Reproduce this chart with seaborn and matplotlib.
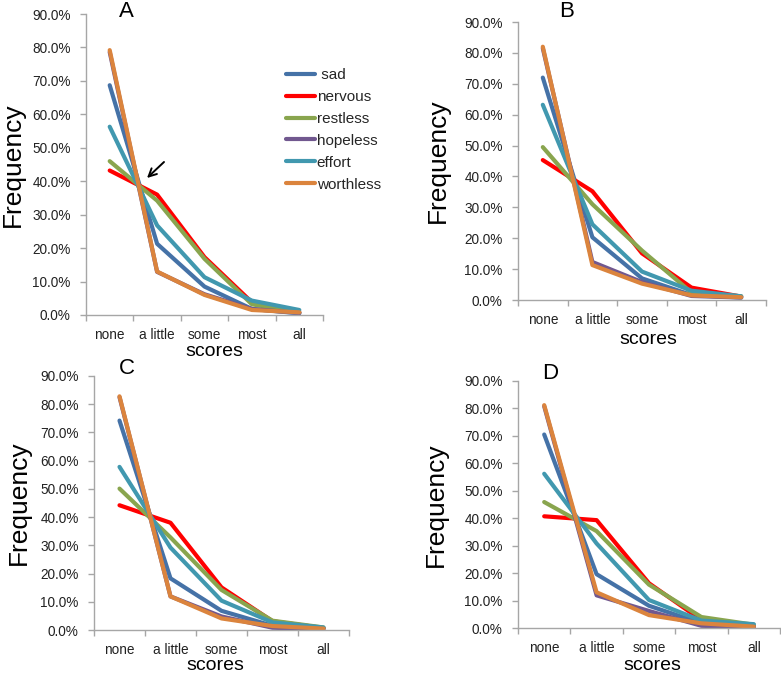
import numpy as np
import pandas as pd
import matplotlib
matplotlib.use("Agg")
import matplotlib.pyplot as plt
from matplotlib.ticker import PercentFormatter, FixedLocator, NullFormatter
import seaborn as sns

# ---------------- data (percent) ----------------
scores = ["none", "a little", "some", "most", "all"]
symptoms = ["sad", "nervous", "restless", "hopeless", "effort", "worthless"]

A_sad       = [68.7, 21.3, 8.5, 1.8, 0.5]
A_nervous   = [43.2, 36.0, 17.3, 3.8, 0.8]
A_restless  = [46.0, 34.2, 16.8, 3.2, 0.8]
A_hopeless  = [78.6, 12.9, 6.2, 1.8, 0.6]
A_effort    = [56.3, 26.8, 11.3, 4.3, 1.5]
A_worthless = [79.2, 13.0, 6.0, 1.5, 0.8]

B_sad       = [72.0, 20.3, 7.0, 1.6, 0.8]
B_nervous   = [45.3, 35.2, 15.1, 4.0, 1.1]
B_restless  = [49.5, 31.0, 16.0, 2.4, 1.2]
B_hopeless  = [81.5, 12.3, 5.8, 1.3, 0.8]
B_effort    = [63.2, 24.5, 9.2, 3.0, 1.2]
B_worthless = [82.0, 11.3, 5.3, 1.5, 0.9]

C_sad       = [74.2, 18.3, 6.8, 1.5, 0.6]
C_nervous   = [44.2, 38.0, 15.1, 3.1, 0.7]
C_restless  = [50.1, 32.8, 14.2, 3.3, 0.9]
C_hopeless  = [82.5, 11.9, 4.8, 0.8, 0.3]
C_effort    = [57.8, 29.2, 10.4, 2.7, 0.9]
C_worthless = [82.8, 11.9, 4.1, 1.4, 0.5]

D_sad       = [70.5, 19.6, 8.1, 1.7, 0.5]
D_nervous   = [40.7, 39.3, 16.3, 2.9, 0.7]
D_restless  = [45.9, 35.3, 15.8, 4.0, 1.2]
D_hopeless  = [80.8, 11.9, 6.2, 0.8, 0.3]
D_effort    = [56.2, 30.8, 10.2, 2.7, 1.4]
D_worthless = [81.2, 13.0, 4.7, 1.7, 0.5]

panels = {
    "A": [A_sad, A_nervous, A_restless, A_hopeless, A_effort, A_worthless],
    "B": [B_sad, B_nervous, B_restless, B_hopeless, B_effort, B_worthless],
    "C": [C_sad, C_nervous, C_restless, C_hopeless, C_effort, C_worthless],
    "D": [D_sad, D_nervous, D_restless, D_hopeless, D_effort, D_worthless],
}

colors = ["#4572A7", "#FF0000", "#89A54E", "#71588F", "#4198AF", "#DB843D"]

# ---------------- style ----------------
sns.set_style("white")
plt.rcParams["font.family"] = ["Liberation Sans", "DejaVu Sans"]

W, H = 781, 674
fig = plt.figure(figsize=(W / 100, H / 100), dpi=100)

# axes boxes in pixel coords: left, right, top(90%), bottom(0%)
boxes = {
    "A": (86, 323, 14, 315),
    "B": (518, 766, 22, 300),
    "C": (94, 349, 376, 630),
    "D": (518, 780, 381, 628),
}
ylabel_x = {"A": 13, "B": 438, "C": 19, "D": 436}
xlabel_x = {"A": 214, "B": 648, "C": 215, "D": 652}
xlabel_off = {"A": 37, "B": 39, "C": 36, "D": 38}
letter_pos = {"A": (126, 17), "B": (567, 17), "C": (127, 374), "D": (550, 379)}

axis_gray = "#A6A6A6"
text_col = "#222222"

for key, series in panels.items():
    l, r, t, b = boxes[key]
    ax = fig.add_axes([l / W, (H - b) / H, (r - l) / W, (b - t) / H])

    rows = []
    for name, vals in zip(symptoms, series):
        for i, (s, v) in enumerate(zip(scores, vals)):
            rows.append({"symptom": name, "score": s, "pos": i + 0.5, "value": v})
    df = pd.DataFrame(rows)

    sns.lineplot(data=df, x="pos", y="value", hue="symptom", hue_order=symptoms,
                 palette=colors, linewidth=3.0, errorbar=None, sort=False,
                 ax=ax, legend=(key == "A"))
    for ln in ax.lines:
        ln.set_solid_capstyle("round")
        ln.set_solid_joinstyle("round")

    ax.set_xlim(0, len(scores))
    ax.set_ylim(0, 90)
    ax.yaxis.set_major_locator(FixedLocator(np.arange(0, 91, 10)))
    ax.yaxis.set_major_formatter(PercentFormatter(xmax=100, decimals=1))

    ax.xaxis.set_major_locator(FixedLocator(np.arange(0, len(scores) + 1)))
    ax.xaxis.set_major_formatter(NullFormatter())
    ax.xaxis.set_minor_locator(FixedLocator(np.arange(len(scores)) + 0.5))
    ax.set_xticklabels(scores, minor=True)

    ax.tick_params(axis="x", which="major", direction="out", length=4,
                   width=1, color=axis_gray, bottom=True)
    ax.tick_params(axis="x", which="minor", length=0, pad=9.5,
                   labelsize=9.8, labelcolor=text_col, bottom=True)
    ax.tick_params(axis="y", which="major", direction="out", length=4,
                   width=1, color=axis_gray, left=True, pad=7,
                   labelsize=9.8, labelcolor=text_col)

    for sp in ["top", "right"]:
        ax.spines[sp].set_visible(False)
    for sp in ["left", "bottom"]:
        ax.spines[sp].set_color(axis_gray)
        ax.spines[sp].set_linewidth(1.0)

    ax.set_ylabel("Frequency", fontsize=19, color="black", va="center")
    ax.yaxis.set_label_coords((ylabel_x[key] - l) / (r - l), 0.5)
    ax.set_xlabel("scores", fontsize=14, color="black", va="center")
    ax.xaxis.set_label_coords((xlabel_x[key] - l) / (r - l),
                              -xlabel_off[key] / (b - t))

    lx, ly = letter_pos[key]
    fig.text(lx / W, (H - ly) / H, key, fontsize=16, ha="center",
             va="baseline", color="black")

    if key == "A":
        handles, labels = ax.get_legend_handles_labels()
        labels = [" sad" if lb == "sad" else lb for lb in labels]
        ax.legend(handles, labels, loc="upper left",
                  bbox_to_anchor=(286 / W, (H - 68) / H),
                  bbox_transform=fig.transFigure, frameon=False,
                  fontsize=11, handlelength=1.9, handletextpad=0.1,
                  labelspacing=0.52, borderpad=0, borderaxespad=0)
        # arrow pointing at the crossing point
        def px2data(px, py):
            return ((px - l) / (r - l) * len(scores), (b - py) / (b - t) * 90)
        ax.annotate("", xy=px2data(147, 178), xytext=px2data(164, 162),
                    arrowprops=dict(arrowstyle="->", color="black", lw=1.4,
                                    mutation_scale=14, shrinkA=0, shrinkB=0))

fig.savefig("out.png", dpi=100)
